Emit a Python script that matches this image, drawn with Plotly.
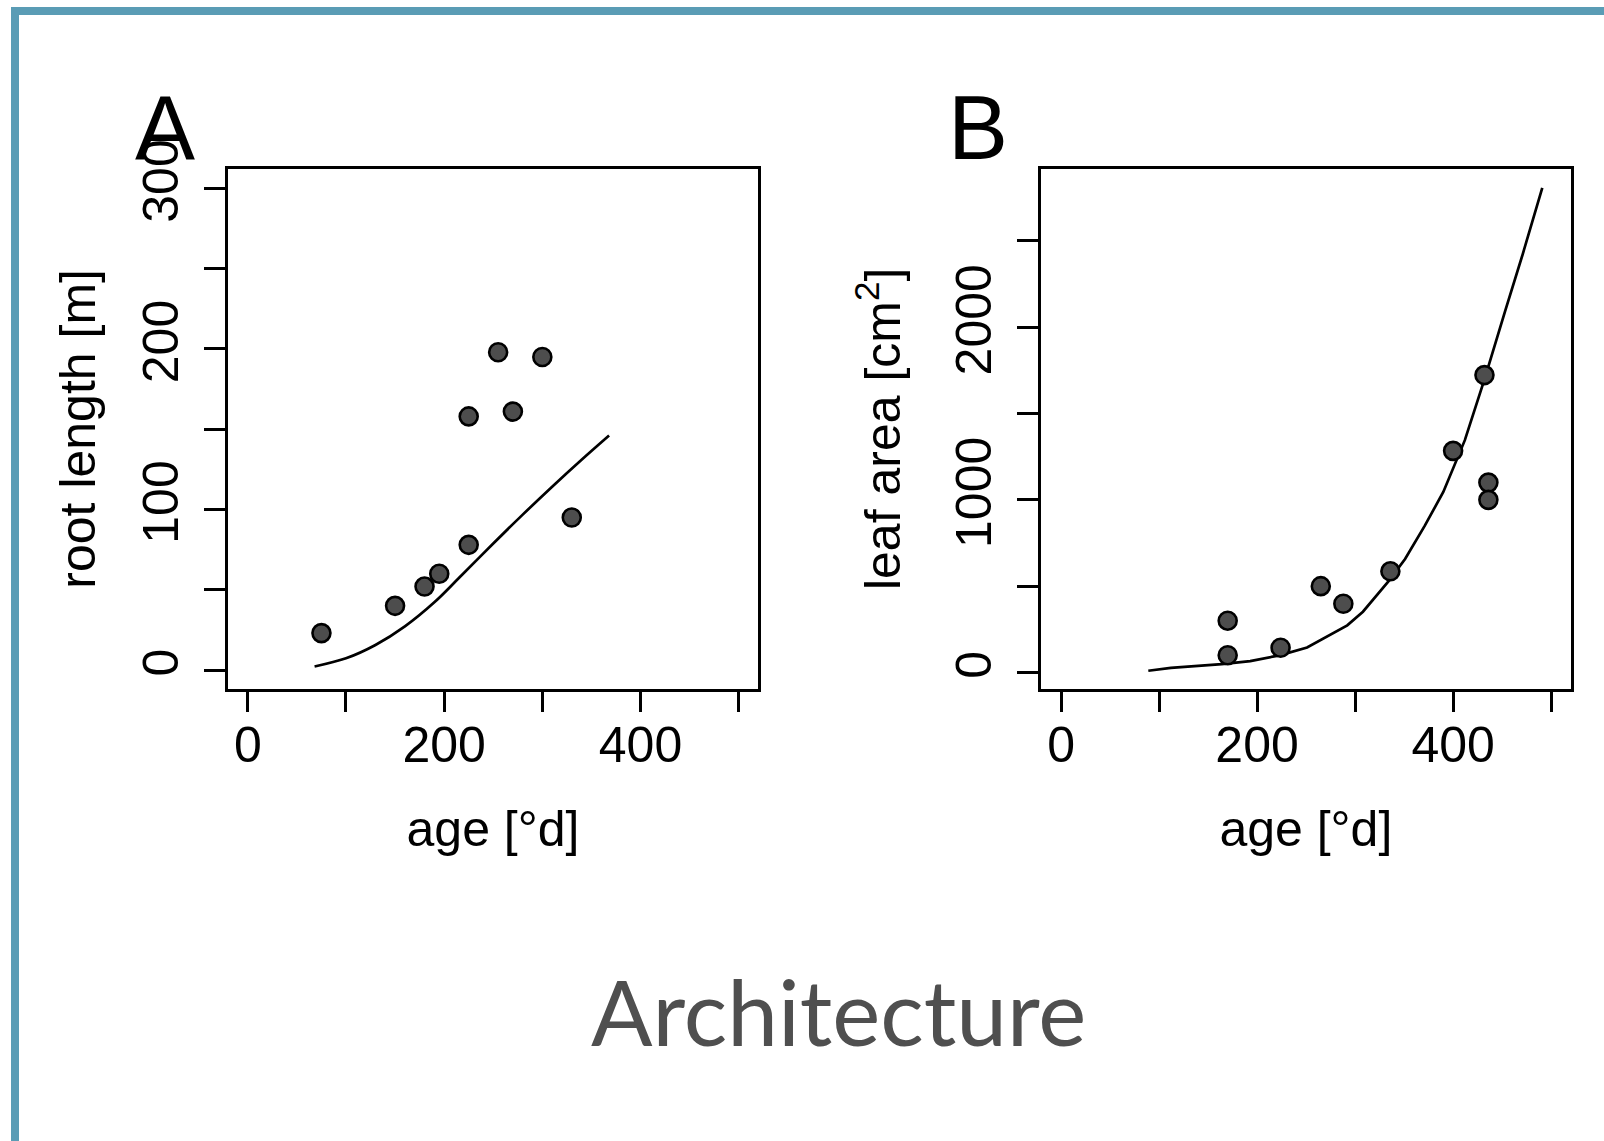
import plotly.graph_objects as go

# ---------------- data ----------------
# Panel A: root length vs age
a_obs_age = [75, 150, 180, 195, 225, 225, 255, 270, 300, 330]
a_obs_root = [23, 40, 52, 60, 78, 158, 198, 161, 195, 95]
a_fit_age = [68, 100, 130, 160, 190, 215, 250, 280, 310, 340, 368]
a_fit_root = [2.2, 7.3, 15.6, 27.2, 42.2, 57.3, 78.8, 96.8, 114.2, 131, 146.1]

# Panel B: leaf area vs age
b_obs_age = [170, 170, 224, 265, 288, 336, 400, 432, 436, 436]
b_obs_leaf = [300, 100, 143, 500, 398, 586, 1284, 1723, 1100, 1000]
b_fit_age = [89, 112, 164, 193, 223, 251, 292, 308, 334, 351, 371, 390, 412, 432, 453, 471, 491]
b_fit_leaf = [10, 27, 48, 66, 99, 145, 273, 352, 528, 657, 849, 1046, 1346, 1698, 2092, 2423, 2808]

x_tickvals = [0, 100, 200, 300, 400, 500]
x_ticktext = ["0", " ", "200", " ", "400", " "]
a_y_tickvals = [0, 50, 100, 150, 200, 250, 300]
a_y_ticktext = ["0", " ", "100", " ", "200", " ", "300"]
b_y_tickvals = [0, 500, 1000, 1500, 2000, 2500]
b_y_ticktext = ["0", " ", "1000", " ", "2000", " "]

# ---------------- layout helpers ----------------
W, H = 1604, 1141
FONT = "Liberation Sans, Arial, Helvetica, sans-serif"
FS = 50


def px(x):
    return x / W


def py(y):
    return 1 - y / H


fig = go.Figure()

marker = dict(size=18, color="#4d4d4d", line=dict(color="black", width=2.6))

fig.add_trace(go.Scatter(x=a_fit_age, y=a_fit_root, mode="lines",
                         line=dict(color="black", width=2.7, shape="spline", smoothing=1.0),
                         xaxis="x", yaxis="y", showlegend=False, hoverinfo="skip"))
fig.add_trace(go.Scatter(x=a_obs_age, y=a_obs_root, mode="markers", marker=marker,
                         xaxis="x", yaxis="y", showlegend=False))
fig.add_trace(go.Scatter(x=b_fit_age, y=b_fit_leaf, mode="lines",
                         line=dict(color="black", width=2.7),
                         xaxis="x2", yaxis="y2", showlegend=False, hoverinfo="skip"))
fig.add_trace(go.Scatter(x=b_obs_age, y=b_obs_leaf, mode="markers", marker=marker,
                         xaxis="x2", yaxis="y2", showlegend=False))

ax_common = dict(showline=True, mirror=True, linecolor="black", linewidth=2.7,
                 ticks="outside", ticklen=21, tickwidth=2.7, tickcolor="black",
                 showgrid=False, zeroline=False, automargin=False,
                 tickfont=dict(family=FONT, size=FS, color="black"),
                 fixedrange=True)

ydom = [py(688.5), py(169.2)]

fig.update_layout(
    width=W, height=H,
    margin=dict(l=0, r=0, t=0, b=0, pad=0, autoexpand=False),
    paper_bgcolor="white", plot_bgcolor="white",
    font=dict(family=FONT, size=FS, color="black"),
    xaxis=dict(domain=[px(227.7), px(758.3)], range=[-20.5, 520], anchor="y",
               tickmode="array", tickvals=x_tickvals, ticktext=x_ticktext, ticklabelstandoff=-10,
               title=dict(text="age [°d]", font=dict(family=FONT, size=FS), standoff=39),
               **ax_common),
    yaxis=dict(domain=ydom, range=[-11.5, 312], anchor="x",
               tickmode="array", tickvals=a_y_tickvals, ticktext=a_y_ticktext, tickangle=-90,
               ticklabelstandoff=6,
               title=dict(text="root length [m]", font=dict(family=FONT, size=FS), standoff=22),
               **ax_common),
    xaxis2=dict(domain=[px(1041), px(1570.7)], range=[-20.5, 520], anchor="y2",
                tickmode="array", tickvals=x_tickvals, ticktext=x_ticktext, ticklabelstandoff=-10,
                title=dict(text="age [°d]", font=dict(family=FONT, size=FS), standoff=39),
                **ax_common),
    yaxis2=dict(domain=ydom, range=[-93, 2916], anchor="x2",
                tickmode="array", tickvals=b_y_tickvals, ticktext=b_y_ticktext, tickangle=-90,
                ticklabelstandoff=6,
                title=dict(text="leaf area [cm<sup>2</sup>]", font=dict(family=FONT, size=FS), standoff=30),
                **ax_common),
)

# border of the slide
border = "#5a9cb5"
fig.add_shape(type="rect", xref="paper", yref="paper", x0=px(11), x1=px(19), y0=py(1141), y1=py(7),
              fillcolor=border, line=dict(width=0), layer="below")
fig.add_shape(type="rect", xref="paper", yref="paper", x0=px(11), x1=px(1604), y0=py(15), y1=py(7),
              fillcolor=border, line=dict(width=0), layer="below")

# panel letters
fig.add_annotation(text="A", xref="paper", yref="paper", x=px(165), y=py(127.5),
                   xanchor="center", yanchor="middle", showarrow=False,
                   font=dict(family=FONT, size=90, color="black"))
fig.add_annotation(text="B", xref="paper", yref="paper", x=px(978), y=py(127.5),
                   xanchor="center", yanchor="middle", showarrow=False,
                   font=dict(family=FONT, size=90, color="black"))

# slide title
fig.add_annotation(text="Architecture", xref="paper", yref="paper", x=px(838), y=py(1010),
                   xanchor="center", yanchor="middle", showarrow=False,
                   font=dict(family="Lato, Open Sans, sans-serif", size=91, color="#4f4f4f"))

fig.write_html("out.html")
